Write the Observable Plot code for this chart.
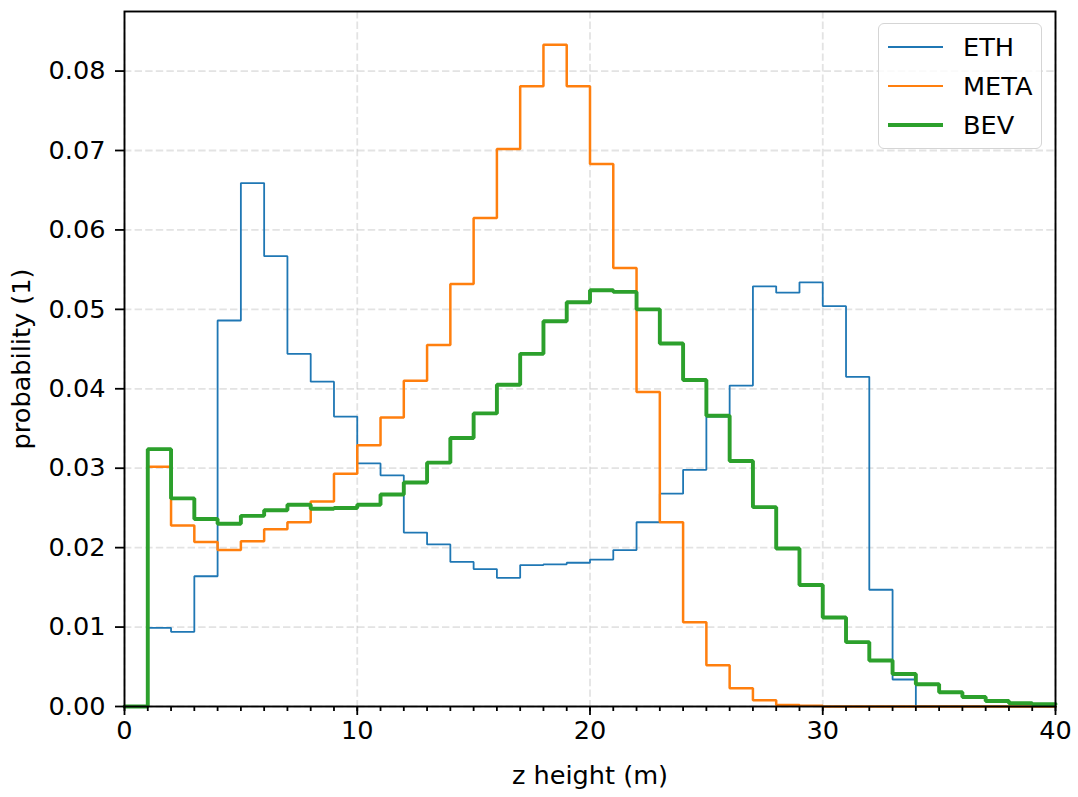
<!DOCTYPE html>
<html>
<head>
<meta charset="utf-8">
<script src="https://cdn.jsdelivr.net/npm/d3@7"></script>
<script src="https://cdn.jsdelivr.net/npm/@observablehq/plot@0.6"></script>
<style>
  html, body { margin: 0; padding: 0; background: #fff; }
  #wrap { position: relative; width: 1078px; height: 797px; font-family: "DejaVu Sans", sans-serif; }
  #legend { position: absolute; left: 878px; top: 23px; width: 162px; height: 124px;
    border: 1.6px solid #d5d5d5; border-radius: 6px; background: rgba(255,255,255,0.8); }
  .row { position: absolute; left: 0; height: 30px; }
  .sw { position: absolute; left: 9px; width: 55px; }
  .lb { position: absolute; left: 84px; font-size: 25.6px; color: #000; white-space: nowrap; line-height: 30px; }
</style>
</head>
<body>
<div id="wrap"><div id="chart"></div><div id="legend"></div></div>
<script>
// bin edges: bins [i, i+1) for i = 0..39
const binStarts = d3.range(0, 40);
const seriesNames = ["ETH", "META", "BEV"];
const seriesColors = ["#1f77b4", "#ff7f0e", "#2ca02c"];
const seriesWidths = [1.8, 2.5, 3.9];

const eth = [0, 0.0099, 0.0094, 0.0164, 0.0486, 0.0659, 0.0567, 0.0444, 0.0409, 0.0365,
  0.0306, 0.0291, 0.0219, 0.0204, 0.0182, 0.0173, 0.0162, 0.0178, 0.0179, 0.0181,
  0.0185, 0.0197, 0.0232, 0.0268, 0.0298, 0.0365, 0.0404, 0.0529, 0.0521, 0.0534,
  0.0504, 0.0415, 0.0147, 0.0034, 0, 0, 0, 0, 0, 0];
const meta = [0, 0.0302, 0.0228, 0.0207, 0.0197, 0.0208, 0.0223, 0.0232, 0.0258, 0.0293,
  0.0329, 0.0364, 0.0410, 0.0455, 0.0532, 0.0615, 0.0702, 0.0781, 0.0833, 0.0781,
  0.0683, 0.0552, 0.0396, 0.0232, 0.0106, 0.0052, 0.0023, 0.0008, 0.0002, 0.0001,
  0, 0, 0, 0, 0, 0, 0, 0, 0, 0];
const bev = [0, 0.0324, 0.0262, 0.0236, 0.0230, 0.0240, 0.0247, 0.0254, 0.0249, 0.0250,
  0.0254, 0.0267, 0.0282, 0.0307, 0.0338, 0.0369, 0.0405, 0.0444, 0.0485, 0.0509,
  0.0524, 0.0522, 0.0500, 0.0457, 0.0411, 0.0366, 0.0309, 0.0251, 0.0199, 0.0153,
  0.0112, 0.0081, 0.0058, 0.0041, 0.0028, 0.0018, 0.0012, 0.0007, 0.0004, 0.0003];
const seriesValues = [eth, meta, bev];

const xMajorTicks = [0, 10, 20, 30, 40];
const xMinorTicks = d3.range(0, 41);
const yTicks = [0, 0.01, 0.02, 0.03, 0.04, 0.05, 0.06, 0.07, 0.08];

// step outlines: point at each bin start plus closing point at last edge
function stepData(name, vals) {
  const pts = binStarts.map((x, i) => ({series: name, x, y: vals[i]}));
  pts.push({series: name, x: binStarts[binStarts.length - 1] + 1, y: vals[vals.length - 1]});
  return pts;
}

const lineMarks = seriesNames.map((name, i) =>
  Plot.line(stepData(name, seriesValues[i]), {
    x: "x", y: "y", curve: "step-after",
    stroke: seriesColors[i], strokeWidth: seriesWidths[i], strokeLinejoin: "miter"
  })
);

const gridStyle = {stroke: "#b0b0b0", strokeOpacity: 0.35, strokeWidth: 1.8, strokeDasharray: "7.4,3.2"};

const chart = Plot.plot({
  width: 1078,
  height: 797,
  marginLeft: 124,
  marginRight: 23,
  marginTop: 11,
  marginBottom: 91,
  style: {fontFamily: "DejaVu Sans, sans-serif", fontSize: "25.6px", color: "#000", background: "#fff", overflow: "visible"},
  x: {domain: [0, 40]},
  y: {domain: [0, 0.0875]},
  marks: [
    Plot.gridX(xMajorTicks, gridStyle),
    Plot.gridY(yTicks, gridStyle),
    ...lineMarks,
    Plot.axisX(xMinorTicks, {tickSize: 5, strokeWidth: 1.8, tickFormat: () => "", label: null}),
    Plot.axisX(xMajorTicks, {tickSize: 9, strokeWidth: 1.8, tickPadding: 5, tickFormat: d => String(d),
      label: "z height (m)", labelAnchor: "center", labelArrow: "none", labelOffset: 77, fontSize: 25.6}),
    Plot.axisY(yTicks, {tickSize: 9, strokeWidth: 1.8, tickPadding: 10, tickFormat: d3.format(".2f"),
      label: "probability (1)", labelAnchor: "center", labelArrow: "none", labelOffset: 113, fontSize: 25.6}),
    Plot.frame({stroke: "#000", strokeWidth: 1.9})
  ]
});
document.getElementById("chart").appendChild(chart);

// legend
const legend = document.getElementById("legend");
const rowTops = [8, 47, 86];
seriesNames.forEach((name, i) => {
  const row = document.createElement("div");
  row.className = "row";
  row.style.top = rowTops[i] + "px";
  row.style.width = "160px";
  const sw = document.createElement("div");
  sw.className = "sw";
  sw.style.top = (15 - seriesWidths[i] / 2) + "px";
  sw.style.height = seriesWidths[i] + "px";
  sw.style.background = seriesColors[i];
  const lb = document.createElement("div");
  lb.className = "lb";
  lb.style.top = "0px";
  lb.textContent = name;
  row.appendChild(sw);
  row.appendChild(lb);
  legend.appendChild(row);
});
</script>
</body>
</html>
